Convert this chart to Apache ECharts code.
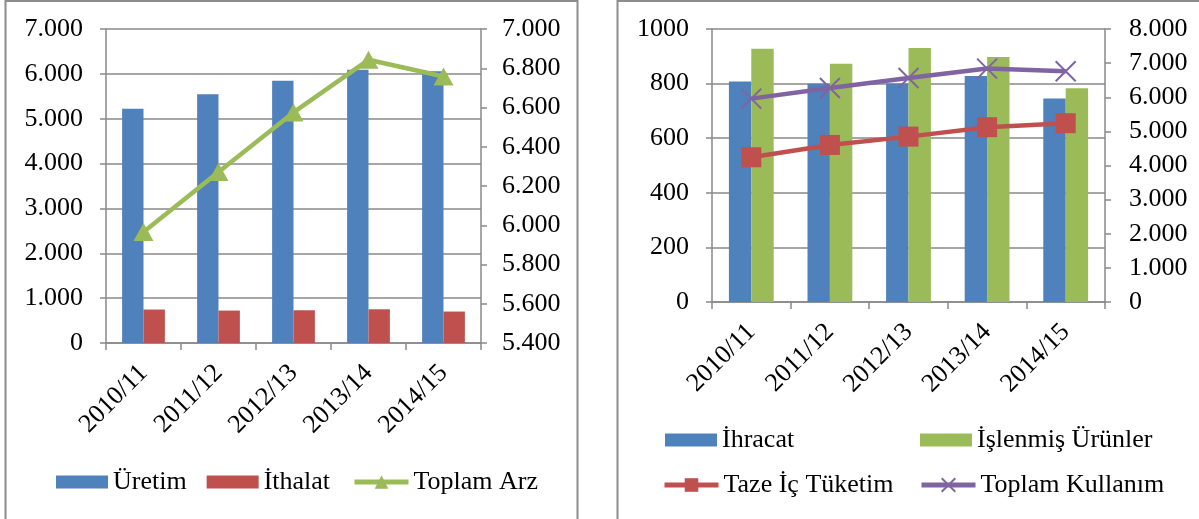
<!DOCTYPE html>
<html>
<head>
<meta charset="utf-8">
<script src="https://cdn.jsdelivr.net/npm/echarts@6/dist/echarts.min.js"></script>
<style>
  html, body { margin: 0; padding: 0; background: #fff; }
  #chart { width: 1199px; height: 519px; }
</style>
</head>
<body>
<div id="chart"></div>
<script>
// categories (shared by both panels)
const categories = ['2010/11', '2011/12', '2012/13', '2013/14', '2014/15']

// left panel: supply
const uretim = [5220, 5548, 5845, 6091, 6057]
const ithalat = [746, 723, 730, 752, 701]
const toplamArz = [5966, 6271, 6575, 6843, 6758]

// right panel: use
const ihracat = [808, 799, 800, 828, 745]
const islenmis = [928, 873, 930, 897, 783]
const tazeIcTuketim = [4241, 4602, 4846, 5122, 5239]
const toplamKullanim = [5960, 6270, 6565, 6840, 6760]

// axis ranges
const leftBarAxis = { min: 0, max: 7000, interval: 1000 }
const leftLineAxis = { min: 5400, max: 7000, interval: 200 }
const rightBarAxis = { min: 0, max: 1000, interval: 200 }
const rightLineAxis = { min: 0, max: 8000, interval: 1000 }

const FONT = 'Liberation Serif'
const GRID_GRAY = '#898989'
const BLUE = '#4F81BD', RED = '#C0504D', GREEN = '#9BBB59', PURPLE = '#8064A2'

// 7000 -> "7.000"
const dotFmt = v => String(v).replace(/\B(?=(\d{3})+(?!\d))/g, '.')
const plainFmt = v => String(v)

const txt = { fontFamily: FONT, fontSize: 26, color: '#000' }

const yAxisBase = (range, gridIndex, position, opts) => Object.assign({
  type: 'value',
  gridIndex: gridIndex,
  position: position,
  min: range.min,
  max: range.max,
  interval: range.interval,
  axisLine: { show: true, lineStyle: { color: GRID_GRAY, width: 1.5 } },
  axisTick: { show: true, length: 6, lineStyle: { color: GRID_GRAY, width: 1.5 } },
  splitLine: { show: false },
  axisLabel: Object.assign({ margin: 22 }, txt)
}, opts)

const xAxisBase = gridIndex => ({
  type: 'category',
  gridIndex: gridIndex,
  data: categories,
  axisLine: { show: true, lineStyle: { color: GRID_GRAY, width: 1.5 } },
  axisTick: { show: true, length: 7, lineStyle: { color: GRID_GRAY, width: 1.5 } },
  axisLabel: Object.assign({ interval: 0, rotate: 45, margin: 26 }, txt)
})

// legend for bar keys (flat rectangles) and for line keys (thick line + marker)
const barLegend = (names, left, top) => ({
  data: names.map(n => ({ name: n, icon: 'rect' })),
  left: left, top: top, padding: 0,
  itemWidth: 52, itemHeight: 13, itemGap: 20,
  textStyle: txt
})
const lineLegend = (names, left, top) => ({
  data: names,
  left: left, top: top, padding: 0,
  itemWidth: 54, itemHeight: 17, itemGap: 20,
  lineStyle: { width: 5 },
  textStyle: txt
})

const chart = echarts.init(document.getElementById('chart'))

chart.setOption({
  animation: false,
  backgroundColor: '#fff',
  textStyle: { fontFamily: FONT },
  graphic: [
    { type: 'rect', silent: true, shape: { x: 5.5, y: 1, width: 572, height: 540 },
      style: { fill: 'none', stroke: '#8c8c8c', lineWidth: 2 } },
    { type: 'rect', silent: true, shape: { x: 617.5, y: 1, width: 620, height: 540 },
      style: { fill: 'none', stroke: '#8c8c8c', lineWidth: 2 } }
  ],
  grid: [
    { left: 106, right: 718, top: 29, bottom: 176 },
    { left: 712, right: 94, top: 29, bottom: 217 }
  ],
  xAxis: [xAxisBase(0), xAxisBase(1)],
  yAxis: [
    yAxisBase(leftBarAxis, 0, 'left', {
      splitLine: { show: true, lineStyle: { color: GRID_GRAY, width: 1.5 } },
      axisLabel: Object.assign({ margin: 23, formatter: dotFmt }, txt)
    }),
    yAxisBase(leftLineAxis, 0, 'right', {
      axisLabel: Object.assign({ margin: 21, formatter: dotFmt }, txt)
    }),
    yAxisBase(rightBarAxis, 1, 'left', {
      splitLine: { show: true, lineStyle: { color: GRID_GRAY, width: 1.5 } },
      axisLabel: Object.assign({ margin: 23, formatter: plainFmt }, txt)
    }),
    yAxisBase(rightLineAxis, 1, 'right', {
      axisLabel: Object.assign({ margin: 24, formatter: dotFmt }, txt)
    })
  ],
  legend: [
    barLegend(['Üretim', 'İthalat'], 56, 469),
    lineLegend(['Toplam Arz'], 352, 469),
    barLegend(['İhracat'], 665, 427),
    barLegend(['İşlenmiş Ürünler'], 920, 427),
    lineLegend(['Taze İç Tüketim'], 662, 472),
    lineLegend(['Toplam Kullanım'], 919, 472)
  ],
  series: [
    {
      name: 'Üretim', type: 'bar', xAxisIndex: 0, yAxisIndex: 0,
      data: uretim, barGap: '0%', barCategoryGap: '43%',
      itemStyle: { color: BLUE }
    },
    {
      name: 'İthalat', type: 'bar', xAxisIndex: 0, yAxisIndex: 0,
      data: ithalat, barGap: '0%', barCategoryGap: '43%',
      itemStyle: { color: RED }
    },
    {
      name: 'Toplam Arz', type: 'line', xAxisIndex: 0, yAxisIndex: 1,
      data: toplamArz,
      symbol: 'triangle', symbolSize: [20, 18],
      lineStyle: { color: GREEN, width: 4.5 },
      itemStyle: { color: GREEN }
    },
    {
      name: 'İhracat', type: 'bar', xAxisIndex: 1, yAxisIndex: 2,
      data: ihracat, barGap: '0%', barCategoryGap: '43%',
      itemStyle: { color: BLUE }
    },
    {
      name: 'İşlenmiş Ürünler', type: 'bar', xAxisIndex: 1, yAxisIndex: 2,
      data: islenmis, barGap: '0%', barCategoryGap: '43%',
      itemStyle: { color: GREEN }
    },
    {
      name: 'Taze İç Tüketim', type: 'line', xAxisIndex: 1, yAxisIndex: 3,
      data: tazeIcTuketim,
      symbol: 'rect', symbolSize: 20,
      lineStyle: { color: RED, width: 4.5 },
      itemStyle: { color: RED }
    },
    {
      name: 'Toplam Kullanım', type: 'line', xAxisIndex: 1, yAxisIndex: 3,
      data: toplamKullanim,
      symbol: 'path://M0,0L10,10M10,0L0,10', symbolSize: 20,
      lineStyle: { color: PURPLE, width: 4.5 },
      itemStyle: { color: PURPLE, borderColor: PURPLE, borderWidth: 2 }
    }
  ]
})

window.onresize = function () {
  chart.resize()
}
</script>
</body>
</html>
